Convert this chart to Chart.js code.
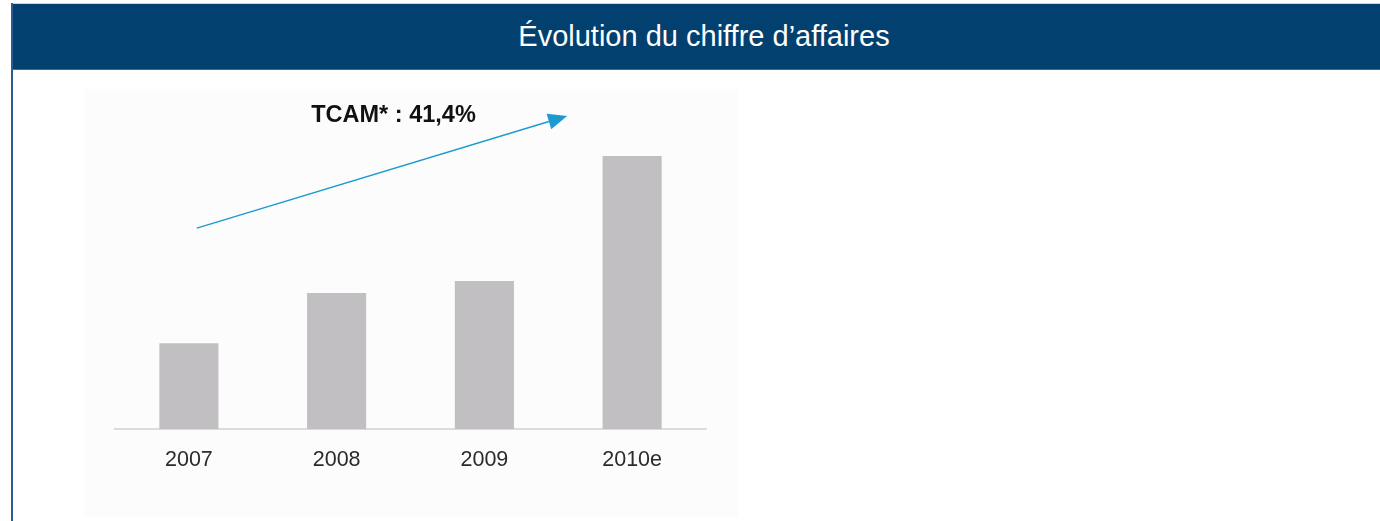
<!DOCTYPE html>
<html>
<head>
<meta charset="utf-8">
<script src="https://cdn.jsdelivr.net/npm/chart.js@4"></script>
<style>
  html, body { margin: 0; padding: 0; background: #ffffff; width: 1380px; height: 521px; overflow: hidden; position: relative; font-family: "Liberation Sans", Arial, sans-serif; }
  #header { position: absolute; left: 12px; top: 3px; width: 1368px; height: 67px; background: #02416f; border-top: 1px solid #c9d5e0; box-sizing: border-box; border-bottom: 1px solid #3c6d96; }
  #title { position: absolute; left: 0; right: 0; top: -1px; height: 67px; line-height: 67px; text-align: center; color: #ffffff; font-size: 29px; padding-left: 16px; }
  #leftline { position: absolute; left: 11px; top: 3px; width: 2px; height: 518px; background: #2a5b92; }
  #c { position: absolute; left: 84px; top: 89px; background: #fcfcfc; }
</style>
</head>
<body>
<div id="header"><div id="title">Évolution du chiffre d’affaires</div></div>
<div id="leftline"></div>
<canvas id="c" width="654" height="428"></canvas>
<script>
// Data
const categories = ["2007", "2008", "2009", "2010e"];
const revenue = [86, 136, 148, 273];
const yMax = 329;
const growthLabel = "TCAM* : 41,4%";
// Arrow annotation in data coordinates [category index, value]
const arrowFrom = [0.054, 201];
const arrowTo = [2.56, 313];
const growthLabelPos = [1.385, 307];

const arrowPlugin = {
  id: 'arrowPlugin',
  afterDatasetsDraw(chart) {
    const { ctx, scales: { x, y } } = chart;
    const x1 = x.getPixelForValue(arrowFrom[0]), y1 = y.getPixelForValue(arrowFrom[1]);
    const x2 = x.getPixelForValue(arrowTo[0]), y2 = y.getPixelForValue(arrowTo[1]);
    const ang = Math.atan2(y2 - y1, x2 - x1);
    const headLen = 19, headW = 8;
    const bx = x2 - headLen * Math.cos(ang), by = y2 - headLen * Math.sin(ang);
    ctx.save();
    ctx.strokeStyle = '#1b9bd0';
    ctx.fillStyle = '#1b9bd0';
    ctx.lineWidth = 1.4;
    ctx.beginPath();
    ctx.moveTo(x1, y1);
    ctx.lineTo(bx, by);
    ctx.stroke();
    ctx.beginPath();
    ctx.moveTo(x2, y2);
    ctx.lineTo(bx + headW * Math.sin(ang), by - headW * Math.cos(ang));
    ctx.lineTo(bx - headW * Math.sin(ang), by + headW * Math.cos(ang));
    ctx.closePath();
    ctx.fill();
    // label
    ctx.fillStyle = '#111111';
    ctx.font = 'bold 23.5px "Liberation Sans", Arial, sans-serif';
    ctx.textAlign = 'center';
    ctx.textBaseline = 'alphabetic';
    ctx.fillText(growthLabel, x.getPixelForValue(growthLabelPos[0]), y.getPixelForValue(growthLabelPos[1]));
    ctx.restore();
  }
};

new Chart(document.getElementById('c'), {
  type: 'bar',
  data: {
    labels: categories,
    datasets: [{
      data: revenue,
      backgroundColor: '#c1bfc2',
      borderWidth: 0,
      barPercentage: 0.4,
      categoryPercentage: 1.0
    }]
  },
  options: {
    responsive: false,
    animation: false,
    devicePixelRatio: 1,
    layout: { padding: { left: 31, right: 32, top: 11, bottom: 26 } },
    plugins: { legend: { display: false }, tooltip: { enabled: false }, title: { display: false } },
    scales: {
      x: {
        grid: { display: false, drawTicks: false },
        border: { display: true, color: '#dcdcdc', width: 2 },
        ticks: { color: '#2b2b2b', padding: 18, font: { family: '"Liberation Sans", Arial, sans-serif', size: 21.5 } }
      },
      y: {
        display: false,
        min: 0,
        max: yMax,
        grid: { display: false }
      }
    }
  },
  plugins: [arrowPlugin]
});
</script>
</body>
</html>
